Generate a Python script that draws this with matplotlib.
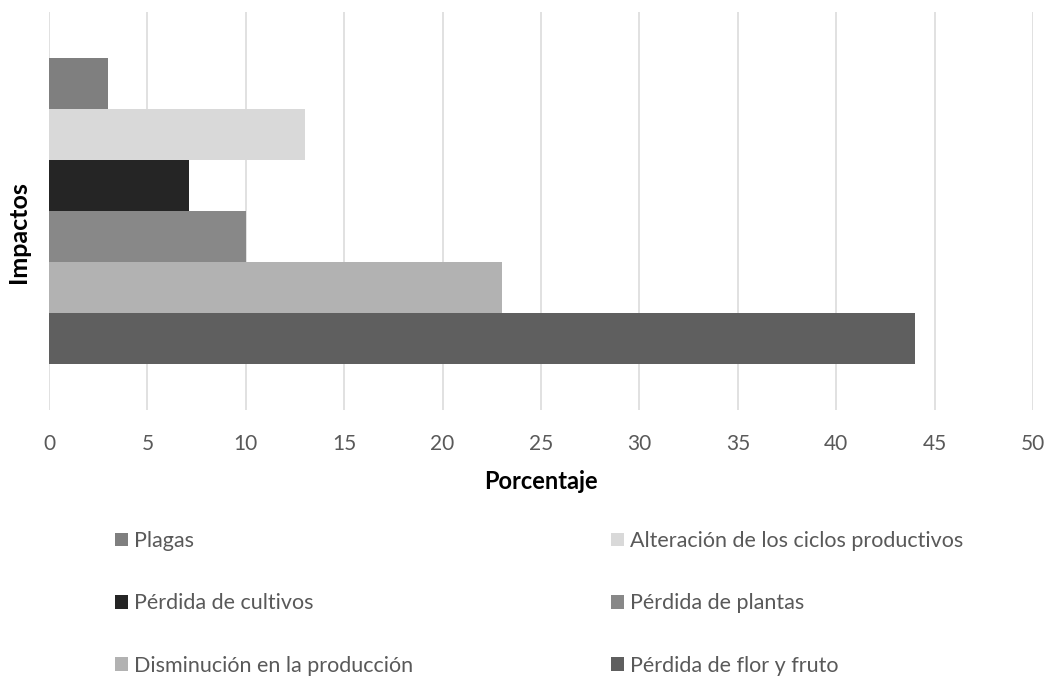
import numpy as np
import matplotlib
matplotlib.use("Agg")
import matplotlib.pyplot as plt
from matplotlib.patches import Patch

plt.rcParams['font.family'] = ['Lato', 'DejaVu Sans']

# datos (de arriba hacia abajo)
impactos = ["Plagas",
            "Alteración de los ciclos productivos",
            "Pérdida de cultivos",
            "Pérdida de plantas",
            "Disminución en la producción",
            "Pérdida de flor y fruto"]
porcentaje = [3, 13, 7.1, 10, 23, 44]
colores = ["#7f7f7f", "#d9d9d9", "#252525", "#888888", "#b2b2b2", "#5f5f5f"]

xticks = [0, 5, 10, 15, 20, 25, 30, 35, 40, 45, 50]

fig = plt.figure(figsize=(10.5, 6.77), dpi=100)
ax = fig.add_axes([49/1050, 1 - 410/677, 984/1050, 398/677])

n = len(impactos)
gap = 0.116
h = (1 - 2*gap) / n
pos = gap + h*(n - 1 - np.arange(n) + 0.5)   # la primera serie arriba

for i in range(n):
    ax.barh(pos[i], porcentaje[i], height=h, color=colores[i], zorder=2)

ax.set_xlim(0, 50)
ax.set_ylim(0, 1)
ax.set_xticks(xticks)
ax.set_xticklabels([str(t) for t in xticks])
ax.set_yticks([])
ax.grid(axis='x', color='#d9d9d9', linewidth=1.1, zorder=0)
for s in ax.spines.values():
    s.set_visible(False)
ax.tick_params(axis='x', length=0, pad=17, labelsize=15, labelcolor='#595959')

ax.set_xlabel("Porcentaje", fontsize=17, fontweight='bold', va='center')
ax.xaxis.set_label_coords(0.5, (410 - 482) / 398)
ax.set_ylabel("Impactos", fontsize=18, fontweight='bold', va='center', ha='center')
ax.yaxis.set_label_coords((19 - 49) / 984, (410 - 232) / 398)

# leyenda en dos columnas
handles = [Patch(facecolor=c, edgecolor='none') for c in colores]
col1 = [0, 2, 4]
col2 = [1, 3, 5]
kw = dict(frameon=False, fontsize=15.5, labelcolor='#595959', handlelength=0.6,
          handleheight=0.6, handletextpad=0.3, labelspacing=1.97,
          borderpad=0, borderaxespad=0, loc='upper left')
leg1 = fig.legend([handles[i] for i in col1], [impactos[i] for i in col1],
                  bbox_to_anchor=(115/1050, 1 - 531/677), **kw)
leg2 = fig.legend([handles[i] for i in col2], [impactos[i] for i in col2],
                  bbox_to_anchor=(611/1050, 1 - 531/677), **kw)

fig.savefig("out.png", dpi=100)
